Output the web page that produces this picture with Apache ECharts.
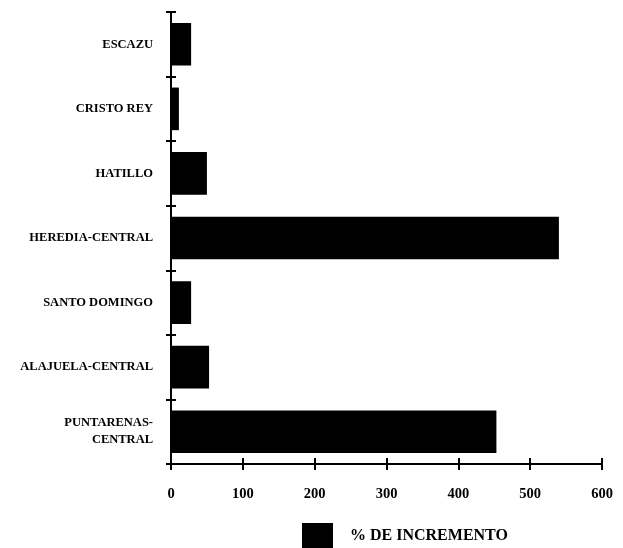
<!DOCTYPE html>
<html><head><meta charset="utf-8">
<script src="https://cdn.jsdelivr.net/npm/echarts@6/dist/echarts.min.js"></script>
<style>html,body{margin:0;padding:0;background:#fff}#c{width:623px;height:548px}</style>
</head><body><div id="c"></div>
<script>
var categories = ['ESCAZU','CRISTO REY','HATILLO','HEREDIA-CENTRAL','SANTO DOMINGO','ALAJUELA-CENTRAL','PUNTARENAS-\nCENTRAL'];
var values = [28, 11, 50, 540, 28, 53, 453];
var xTicks = [0, 100, 200, 300, 400, 500, 600];
var seriesName = '% DE INCREMENTO';

var font = '"Liberation Serif", "Times New Roman", serif';
var chart = echarts.init(document.getElementById('c'));
var lineStyle = {color:'#000', width:2};
var yBase = {
  type:'category', data:categories, inverse:true, position:'left',
  axisLine:{show:true, lineStyle:lineStyle},
  splitLine:{show:false}
};
var xBase = {
  type:'value', min:xTicks[0], max:xTicks[xTicks.length-1], interval:100, position:'bottom',
  axisLine:{show:true, lineStyle:lineStyle}, splitLine:{show:false}
};
chart.setOption({
  animation:false,
  grid:{left:171, right:21, top:12, bottom:84, containLabel:false},
  legend:{
    data:[seriesName], bottom:0, left:302, padding:0, itemWidth:31, itemHeight:25,
    icon:'rect',
    textStyle:{fontFamily:font, fontWeight:'bold', fontSize:16, color:'#000', padding:[0,0,0,12]}
  },
  yAxis:[
    Object.assign({}, yBase, {
      axisTick:{show:true, length:5, lineStyle:lineStyle},
      axisLabel:{fontFamily:font, fontWeight:'bold', fontSize:12.5, color:'#000', margin:18, lineHeight:17}
    }),
    Object.assign({}, yBase, {
      axisTick:{show:true, inside:true, length:5, lineStyle:lineStyle},
      axisLabel:{show:false}
    })
  ],
  xAxis:[
    Object.assign({}, xBase, {
      axisTick:{show:true, length:6, lineStyle:lineStyle},
      axisLabel:{fontFamily:font, fontWeight:'bold', fontSize:14.5, color:'#000', margin:23,
        formatter:function(v){return String(v);}}
    }),
    Object.assign({}, xBase, {
      axisTick:{show:true, inside:true, length:6, lineStyle:lineStyle},
      axisLabel:{show:false}
    })
  ],
  series:[{
    name:seriesName, type:'bar', data:values, barWidth:'66%',
    itemStyle:{color:'#000'}, xAxisIndex:0, yAxisIndex:0
  }]
});
</script></body></html>
